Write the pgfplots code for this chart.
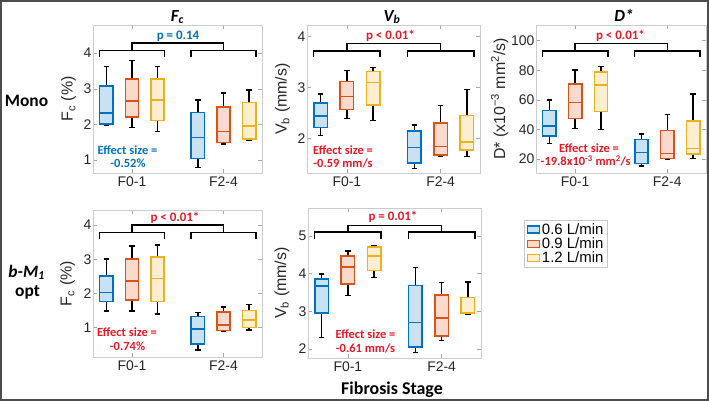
\documentclass[border=0pt]{standalone}
\usepackage{fontspec}
\setmainfont{Liberation Sans}
\newfontfamily\carl{Carlito}
\usepackage{pgfplots}
\pgfplotsset{compat=1.18}
\usepgfplotslibrary{statistics}
\definecolor{cB}{RGB}{0,114,189}
\definecolor{cBf}{RGB}{200,226,244}
\definecolor{cR}{RGB}{217,83,25}
\definecolor{cRf}{RGB}{250,218,204}
\definecolor{cY}{RGB}{237,177,32}
\definecolor{cYf}{RGB}{252,238,206}
\definecolor{tB}{RGB}{0,112,192}
\definecolor{tR}{RGB}{232,24,36}
\newcommand{\CB}[1]{\carl\bfseries\fontsize{#1}{#1}\selectfont}
% box: position, lower whisker, lower quartile, median, upper quartile, upper whisker, colour
\newcommand{\bx}[7]{\addplot[forget plot, draw=#7, fill=#7f, line width=1.5bp,
  boxplot prepared={draw position=#1, lower whisker=#2, lower quartile=#3,
  median=#4, upper quartile=#5, upper whisker=#6, box extend=0.145, whisker extend=0.06}]
  coordinates {};}
% brackets: end, group, top
\newcommand{\brk}[3]{%
 \addplot[forget plot, black, line width=1.4bp] coordinates {(0.645,#1) (0.645,#2) (1.355,#2) (1.355,#1)};
 \addplot[forget plot, black, line width=1.4bp] coordinates {(1.645,#1) (1.645,#2) (2.355,#2) (2.355,#1)};
 \addplot[forget plot, black, line width=1.4bp] coordinates {(1,#2) (1,#3) (2,#3) (2,#2)};}
\pgfplotsset{
  boxplot/draw direction=y,
  boxplot/every whisker/.style={draw=black, line width=1.4bp},
  boxplot/every median/.style={line width=1.5bp},
  panel/.style={
    scale only axis, anchor=south west, clip=false,
    xmin=0.575, xmax=2.42, xtick={1,2}, xticklabels={F0-1,F2-4},
    axis line style={draw=black!20, line width=0.6bp},
    tick style={draw=black!35, line width=0.6bp},
    major tick length=4bp, tick align=inside,
    ticklabel style={font=\fontsize{14}{16}\selectfont, text=black!85},
    yticklabel style={inner sep=1.5bp},
    xticklabel style={inner sep=4bp},
    /pgf/number format/assume math mode=true,
  }}
\begin{document}
\begin{tikzpicture}
\useasboundingbox (0,0) rectangle (709bp,-401bp);
\fill[white] (0,0) rectangle (709bp,-401bp);
% ---- Mono Fc
\begin{axis}[panel, at={(93bp,-173bp)}, width=169bp, height=148bp,
  ymin=0.64, ymax=4.79, ytick={1,2,3,4}]
\bx{0.72}{1.98}{2.02}{2.32}{3.08}{3.63}{cB}
\bx{1.00}{1.92}{2.21}{2.66}{3.28}{3.79}{cR}
\bx{1.28}{1.80}{2.11}{2.69}{3.28}{3.63}{cY}
\bx{1.72}{0.80}{1.05}{1.64}{2.34}{2.69}{cB}
\bx{2.00}{1.45}{1.50}{1.80}{2.49}{2.88}{cR}
\bx{2.28}{1.55}{1.59}{1.96}{2.62}{2.97}{cY}
\brk{3.89}{4.07}{4.28}
\end{axis}
% ---- Mono Vb
\begin{axis}[panel, at={(307bp,-173bp)}, width=173bp, height=148bp,
  ymin=1.317, ymax=4.23, ytick={2,3,4}]
\bx{0.72}{2.05}{2.21}{2.44}{2.69}{2.87}{cB}
\bx{1.00}{2.39}{2.57}{2.82}{3.12}{3.33}{cR}
\bx{1.28}{2.35}{2.66}{3.10}{3.31}{3.39}{cY}
\bx{1.72}{1.41}{1.51}{1.82}{2.14}{2.26}{cB}
\bx{2.00}{1.65}{1.67}{1.84}{2.30}{2.64}{cR}
\bx{2.28}{1.64}{1.77}{1.93}{2.45}{2.96}{cY}
\brk{3.61}{3.72}{3.87}
\end{axis}
% ---- Mono D*
\begin{axis}[panel, at={(536bp,-173bp)}, width=170bp, height=148bp,
  ymin=10.6, ymax=110.6, ytick={20,40,60,80,100}]
\bx{0.72}{30.6}{35.5}{42.5}{52.7}{59.9}{cB}
\bx{1.00}{40.7}{47.5}{58.3}{70.7}{80.2}{cR}
\bx{1.28}{40.1}{52.0}{70.0}{79.0}{82.4}{cY}
\bx{1.72}{15.3}{17.0}{24.3}{33.3}{36.9}{cB}
\bx{2.00}{20.1}{20.5}{23.9}{39.2}{50.2}{cR}
\bx{2.28}{20.5}{23.4}{27.2}{45.9}{64.0}{cY}
\brk{88.8}{93.0}{98.2}
\end{axis}
% ---- b-M1 opt Fc
\begin{axis}[panel, at={(93bp,-357bp)}, width=169bp, height=147bp,
  ymin=0.14, ymax=4.44, ytick={1,2,3,4}]
\bx{0.72}{1.49}{1.76}{2.02}{2.51}{3.01}{cB}
\bx{1.00}{1.49}{1.81}{2.36}{3.00}{3.39}{cR}
\bx{1.28}{1.40}{1.76}{2.43}{3.07}{3.42}{cY}
\bx{1.72}{0.35}{0.52}{0.96}{1.32}{1.45}{cB}
\bx{2.00}{0.88}{0.91}{1.08}{1.46}{1.60}{cR}
\bx{2.28}{0.93}{1.01}{1.22}{1.50}{1.68}{cY}
\brk{3.59}{3.79}{4.00}
\end{axis}
% ---- b-M1 opt Vb
\begin{axis}[panel, at={(308bp,-358bp)}, width=173bp, height=150bp,
  ymin=1.76, ymax=5.74, ytick={2,3,4,5},
  legend style={at={(axis description cs:1.25,0.92)}, anchor=north west,
    draw=black!22, line width=0.6bp, font=\fontsize{15}{17}\selectfont,
    inner xsep=2bp, inner ysep=1bp, row sep=-2bp, cells={anchor=west}},
  legend image code/.code={\draw[#1] (0bp,-3.5bp) rectangle (12bp,3.5bp);}]
\bx{0.72}{2.31}{2.95}{3.67}{3.86}{3.99}{cB}
\bx{1.00}{3.42}{3.72}{4.17}{4.47}{4.60}{cR}
\bx{1.28}{3.90}{4.08}{4.47}{4.70}{4.74}{cY}
\bx{1.72}{1.91}{2.05}{2.70}{3.68}{4.16}{cB}
\bx{2.00}{2.22}{2.35}{2.82}{3.43}{3.76}{cR}
\bx{2.28}{2.93}{2.95}{2.97}{3.37}{3.78}{cY}
\brk{4.92}{5.10}{5.27}
\addlegendimage{draw=cB, fill=cBf, line width=1.4bp}
\addlegendentry{0.6 L/min}
\addlegendimage{draw=cR, fill=cRf, line width=1.4bp}
\addlegendentry{0.9 L/min}
\addlegendimage{draw=cY, fill=cYf, line width=1.4bp}
\addlegendentry{1.2 L/min}
\end{axis}
% ---- titles
\node[anchor=base, font={\CB{17}\itshape}] at (177.5bp,-21bp) {F\textsubscript{c}};
\node[anchor=base, font={\CB{17}\itshape}] at (392bp,-21bp) {V\textsubscript{b}};
\node[anchor=base, font={\CB{17}\itshape}] at (624bp,-21bp) {D*};
% ---- row labels
\node[anchor=base, font={\CB{17.5}}] at (26.5bp,-106bp) {Mono};
\node[anchor=base, font={\CB{17.5}\itshape}] at (26.7bp,-277bp) {b-M\textsubscript{1}};
\node[anchor=base, font={\CB{17.5}}] at (27.5bp,-296bp) {opt};
% ---- y labels
\node[rotate=90, anchor=base, font=\fontsize{16}{18}\selectfont, text=black!85] at (72.7bp,-99bp) {F\textsubscript{c} (\%)};
\node[rotate=90, anchor=base, font=\fontsize{16}{18}\selectfont, text=black!85] at (286.7bp,-99bp) {V\textsubscript{b} (mm/s)};
\node[rotate=90, anchor=base, font=\fontsize{16}{18}\selectfont, text=black!85] at (505bp,-99bp) {D* (x10\textsuperscript{−3} mm\textsuperscript{2}/s)};
\node[rotate=90, anchor=base, font=\fontsize{16}{18}\selectfont, text=black!85] at (71.7bp,-283.5bp) {F\textsubscript{c} (\%)};
\node[rotate=90, anchor=base, font=\fontsize{16}{18}\selectfont, text=black!85] at (286bp,-283bp) {V\textsubscript{b} (mm/s)};
% ---- p values
\node[anchor=base, font={\CB{13}}, text=tB] at (178bp,-39.3bp) {p = 0.14};
\node[anchor=base, font={\CB{13}}, text=tR] at (390.5bp,-39.3bp) {p < 0.01*};
\node[anchor=base, font={\CB{13}}, text=tR] at (620.5bp,-39bp) {p < 0.01*};
\node[anchor=base, font={\CB{13}}, text=tR] at (175bp,-221.7bp) {p < 0.01*};
\node[anchor=base, font={\CB{13}}, text=tR] at (393bp,-220.7bp) {p = 0.01*};
% ---- effect sizes
\node[anchor=base, font={\CB{12.5}}, text=tB] at (127.5bp,-154bp) {Effect size =};
\node[anchor=base, font={\CB{12.5}}, text=tB] at (128bp,-167.7bp) {-0.52\%};
\node[anchor=base, font={\CB{12.5}}, text=tR] at (343bp,-154bp) {Effect size =};
\node[anchor=base, font={\CB{12.5}}, text=tR] at (343bp,-167.7bp) {-0.59 mm/s};
\node[anchor=base, font={\CB{12.5}}, text=tR] at (589bp,-152.7bp) {Effect size =};
\node[anchor=base, font={\CB{12.5}}, text=tR] at (585.7bp,-165.7bp) {-19.8x10\textsuperscript{-3} mm\textsuperscript{2}/s};
\node[anchor=base, font={\CB{12.5}}, text=tR] at (127bp,-336.7bp) {Effect size =};
\node[anchor=base, font={\CB{12.5}}, text=tR] at (127.5bp,-350.7bp) {-0.74\%};
\node[anchor=base, font={\CB{12.5}}, text=tR] at (365.5bp,-338.3bp) {Effect size =};
\node[anchor=base, font={\CB{12.5}}, text=tR] at (365.5bp,-352.3bp) {-0.61 mm/s};
% ---- x label
\node[anchor=base, font={\CB{18}}] at (392bp,-394bp) {Fibrosis Stage};
% ---- frame
\draw[black!70, line width=2bp] (1bp,-1bp) rectangle (708bp,-400bp);
\end{tikzpicture}
\end{document}
